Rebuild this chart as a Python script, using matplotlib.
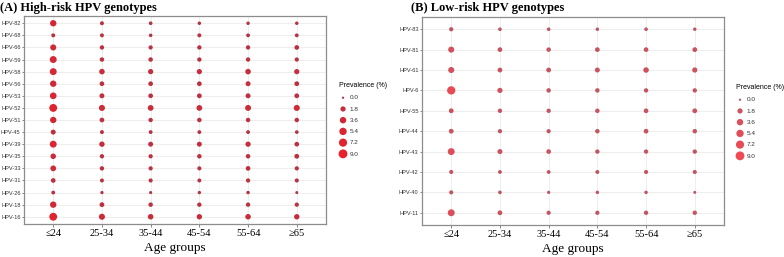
import numpy as np
import matplotlib
matplotlib.use("Agg")
import matplotlib.pyplot as plt
from matplotlib.colors import LinearSegmentedColormap

ages = ["\u226424", "25-34", "35-44", "45-54", "55-64", "\u226565"]

# high-risk genotypes, listed bottom to top
hr_types = ["HPV-16", "HPV-18", "HPV-26", "HPV-31", "HPV-33", "HPV-35", "HPV-39", "HPV-45",
            "HPV-51", "HPV-52", "HPV-53", "HPV-56", "HPV-58", "HPV-59", "HPV-66", "HPV-68", "HPV-82"]
hr_prev = [
    [6.5, 3.0, 2.2, 2.0, 2.2, 2.0],   # 16
    [3.5, 1.3, 1.0, 0.9, 0.9, 0.8],   # 18
    [0.5, 0.2, 0.15, 0.25, 0.3, 0.1], # 26
    [1.2, 0.6, 0.7, 0.6, 0.8, 0.7],   # 31
    [2.5, 0.9, 0.8, 0.7, 1.2, 0.8],   # 33
    [2.2, 0.9, 0.8, 1.0, 1.0, 1.3],   # 35
    [4.5, 2.0, 1.5, 1.5, 1.8, 1.2],   # 39
    [1.5, 0.6, 0.5, 0.5, 0.5, 0.4],   # 45
    [3.5, 1.2, 0.9, 1.0, 1.0, 1.0],   # 51
    [6.5, 3.0, 2.5, 2.5, 2.8, 3.0],   # 52
    [4.0, 1.5, 1.2, 1.3, 1.5, 1.3],   # 53
    [3.5, 1.2, 1.2, 1.2, 1.5, 1.3],   # 56
    [4.5, 2.2, 1.8, 1.8, 2.2, 1.8],   # 58
    [4.5, 1.0, 1.0, 0.9, 0.9, 0.8],   # 59
    [3.0, 0.9, 0.8, 0.9, 0.9, 1.2],   # 66
    [0.6, 0.6, 0.35, 0.6, 0.5, 0.5],  # 68
    [3.5, 0.6, 0.4, 0.3, 0.3, 0.3],   # 82
]

# low-risk genotypes, bottom to top
lr_types = ["HPV-11", "HPV-40", "HPV-42", "HPV-43", "HPV-44", "HPV-55", "HPV-6", "HPV-61", "HPV-81", "HPV-83"]
lr_prev = [
    [4.5, 1.3, 0.8, 0.8, 0.9, 0.9],   # 11
    [0.7, 0.4, 0.2, 0.3, 0.3, 0.1],   # 40
    [0.7, 0.5, 0.5, 0.6, 0.7, 0.7],   # 42
    [4.5, 1.6, 1.2, 0.9, 0.9, 0.9],   # 43
    [1.3, 0.8, 0.8, 1.0, 1.2, 1.0],   # 44
    [1.3, 0.9, 0.9, 1.0, 1.2, 1.3],   # 55
    [7.5, 1.8, 1.0, 1.0, 0.9, 0.9],   # 6
    [3.0, 1.3, 1.3, 1.5, 2.2, 1.8],   # 61
    [3.0, 1.2, 1.0, 1.2, 1.2, 1.3],   # 81
    [0.8, 0.4, 0.4, 0.3, 0.4, 0.3],   # 83
]

legend_vals = [0.0, 1.8, 3.6, 5.4, 7.2, 9.0]


def msize(v):
    # diameter in px -> area in pt^2 (dpi 100)
    d = 2.3 + 6.9 * np.sqrt(np.asarray(v, dtype=float) / 10.0)
    return (d * 0.72) ** 2


def panel(ax, types, prev, cmap, title, tx, legx, legy):
    prev = np.array(prev)
    nrow = len(types)
    xx, yy = np.meshgrid(np.arange(1, 7), np.arange(1, nrow + 1))
    vals = prev.ravel()
    ax.scatter(xx.ravel(), yy.ravel(), s=msize(vals), c=np.sqrt(vals / 9.0),
               cmap=cmap, vmin=0, vmax=1, edgecolors="none", zorder=3)
    ax.set_xlim(0.4, 6.6)
    ax.set_ylim(0.4, nrow + 0.6)
    ax.set_xticks(range(1, 7))
    ax.set_xticklabels(ages, family="Liberation Serif", fontsize=7.5)
    ax.set_yticks(range(1, nrow + 1))
    ax.set_yticklabels(types, family="Liberation Sans", fontsize=4.1, color="#333333")
    ax.grid(True, color="#ebebeb", lw=0.6, zorder=0)
    ax.set_axisbelow(True)
    ax.tick_params(axis="y", length=1.5, width=0.5, color="#555555", pad=1)
    ax.tick_params(axis="x", length=2, width=0.5, color="#555555", pad=1.5)
    for sp in ax.spines.values():
        sp.set_color("#8c8c8c")
        sp.set_linewidth(0.9)
    ax.set_xlabel("Age groups", family="Liberation Serif", fontsize=9.5, labelpad=3)
    fig.text(tx, 0.968, title, family="Liberation Serif", fontweight="bold",
             fontsize=9, va="center", ha="left")
    handles = [ax.scatter([], [], s=msize(v), color=cmap(np.sqrt(v / 9.0)), edgecolors="none")
               for v in legend_vals]
    leg = fig.legend(handles, [f"{v:.1f}" for v in legend_vals], title="Prevalence (%)",
                     loc="upper left", bbox_to_anchor=(legx, legy), frameon=False,
                     prop={"family": "Liberation Sans", "size": 4.6},
                     title_fontproperties={"family": "Liberation Sans", "size": 5.0},
                     labelspacing=0.9, handletextpad=0.4, borderpad=0, handlelength=1.2)
    for t in leg.get_texts():
        t.set_color("#333333")
    leg._legend_box.align = "left"


fig = plt.figure(figsize=(7.84, 2.57), dpi=100)
axA = fig.add_axes([24 / 784, 1 - 224 / 257, 302 / 784, 208 / 257])
axB = fig.add_axes([422 / 784, 1 - 225 / 257, 302 / 784, 208 / 257])

cmapA = LinearSegmentedColormap.from_list("a", ["#a8394b", "#e8202a"])
cmapB = LinearSegmentedColormap.from_list("b", ["#b05a68", "#ee4a54"])

panel(axA, hr_types, hr_prev, cmapA, "(A) High-risk HPV genotypes", 0.0, 336 / 784, 1 - 79 / 257)
panel(axB, lr_types, lr_prev, cmapB, "(B) Low-risk HPV genotypes", 411 / 784, 733 / 784, 1 - 81 / 257)

fig.savefig("out.png", dpi=100)
